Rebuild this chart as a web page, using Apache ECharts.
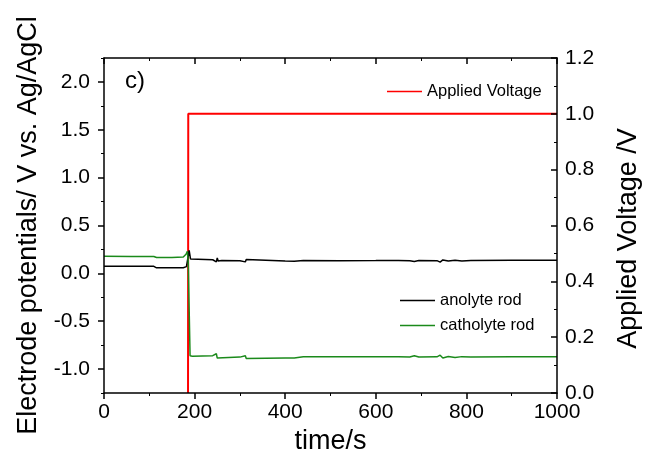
<!DOCTYPE html>
<html>
<head>
<meta charset="utf-8">
<script src="https://cdn.jsdelivr.net/npm/echarts@6/dist/echarts.min.js"></script>
<style>
  html, body { margin: 0; padding: 0; background: #fff; }
  #chart { width: 645px; height: 460px; }
</style>
</head>
<body>
<div id="chart"></div>
<script>
// time axis (s) and the readings
var anolyteTime = [0, 60, 110, 116, 175, 182, 186, 188, 191, 195, 240, 248, 250, 252, 260, 300, 312, 314, 318, 400, 420, 440, 520, 600, 650, 675, 685, 695, 735, 742, 748, 760, 775, 790, 810, 900, 1000];
var anolyteRod = [0.075, 0.074, 0.073, 0.058, 0.058, 0.07, 0.09, 0.24, 0.15, 0.14, 0.142, 0.12, 0.16, 0.13, 0.135, 0.132, 0.12, 0.145, 0.13, 0.128, 0.127, 0.134, 0.133, 0.134, 0.135, 0.132, 0.125, 0.134, 0.133, 0.118, 0.14, 0.128, 0.138, 0.13, 0.135, 0.136, 0.136];

var catholyteTime = [0, 60, 110, 116, 150, 175, 181, 184, 186, 190, 195, 240, 248, 250, 252, 300, 312, 314, 318, 400, 420, 440, 520, 600, 650, 675, 685, 695, 735, 742, 748, 760, 775, 790, 810, 900, 1000];
var catholyteRod = [0.178, 0.177, 0.176, 0.165, 0.165, 0.17, 0.2, 0.23, 0.12, -0.86, -0.865, -0.86, -0.84, -0.885, -0.87, -0.875, -0.86, -0.89, -0.875, -0.885, -0.885, -0.872, -0.872, -0.872, -0.87, -0.873, -0.86, -0.873, -0.872, -0.855, -0.885, -0.868, -0.878, -0.87, -0.873, -0.872, -0.87];

// before ~186 s the voltage sits on the 0 baseline (hidden behind the axis)
var voltageTime = [185.5, 186, 1000];
var appliedVoltage = [0, 1.0, 1.0];

var leftMajor = [-1.0, -0.5, 0.0, 0.5, 1.0, 1.5, 2.0];
var leftMinor = [-1.25, -0.75, -0.25, 0.25, 0.75, 1.25, 1.75, 2.25];

function pairs(t, v) {
  var out = [];
  for (var i = 0; i < t.length; i++) out.push([t[i], v[i]]);
  return out;
}

var font = "'Liberation Sans', Arial, sans-serif";
var myChart = echarts.init(document.getElementById('chart'));

var option = {
  animation: false,
  textStyle: { fontFamily: font, color: '#000' },
  grid: { left: 104, right: 88, top: 58, bottom: 67, containLabel: false, outerBoundsMode: 'none' },
  graphic: [{
    type: 'text', left: 125, top: 69,
    style: { text: 'c)', font: '24px ' + font, fill: '#000' }
  }],
  legend: [{
    data: ['Applied Voltage'],
    left: 387, top: 83, padding: 0,
    icon: 'rect', itemWidth: 35, itemHeight: 1.5, itemGap: 6,
    textStyle: { fontSize: 16.5, color: '#000', fontFamily: font }
  }, {
    data: ['anolyte rod', 'catholyte rod'],
    orient: 'vertical', left: 400, top: 292, padding: 0,
    icon: 'rect', itemWidth: 35, itemHeight: 1.5, itemGap: 8,
    textStyle: { fontSize: 16.5, color: '#000', fontFamily: font }
  }],
  xAxis: [{
    type: 'value', position: 'bottom', min: 0, max: 1000, interval: 200, z: 5,
    name: 'time/s', nameLocation: 'middle', nameGap: 32,
    nameTextStyle: { fontSize: 27, color: '#000' },
    axisLine: { onZero: false, lineStyle: { color: '#000', width: 1.5 } },
    axisTick: { length: 6, lineStyle: { color: '#000', width: 1.5 } },
    minorTick: { show: true, splitNumber: 2, length: 3, lineStyle: { color: '#000', width: 1 } },
    axisLabel: { fontSize: 21, color: '#000', margin: 9, formatter: function (v) { return String(v); } },
    splitLine: { show: false }
  }, {
    type: 'value', position: 'top', min: 0, max: 1000, interval: 200, z: 5,
    axisLine: { show: true, onZero: false, lineStyle: { color: '#000', width: 1.5 } },
    axisTick: { show: true, inside: true, length: 6, lineStyle: { color: '#000', width: 1.5 } },
    minorTick: { show: true, splitNumber: 2, length: 3, lineStyle: { color: '#000', width: 1 } },
    axisLabel: { show: false },
    splitLine: { show: false }
  }],
  yAxis: [{
    type: 'value', position: 'left', min: -1.25, max: 2.25, z: 5,
    name: 'Electrode potentials/ V vs. Ag/AgCl', nameLocation: 'middle', nameGap: 62, nameRotate: 90,
    nameTextStyle: { fontSize: 27, color: '#000' },
    axisLine: { show: true, onZero: false, lineStyle: { color: '#000', width: 1.5 } },
    axisTick: { show: true, length: 6, customValues: leftMajor, lineStyle: { color: '#000', width: 1.5 } },
    axisLabel: {
      fontSize: 21, color: '#000', margin: 14, customValues: leftMajor,
      formatter: function (v) { return v.toFixed(1); }
    },
    splitLine: { show: false }
  }, {
    type: 'value', position: 'right', min: 0, max: 1.2, interval: 0.2, z: 5,
    name: 'Applied Voltage /V', nameLocation: 'middle', nameGap: 58, nameRotate: 90,
    nameTextStyle: { fontSize: 27, color: '#000', padding: [0, 26, 0, 0] },
    axisLine: { show: true, onZero: false, lineStyle: { color: '#000', width: 1.5 } },
    axisTick: { show: true, inside: true, length: 6, lineStyle: { color: '#000', width: 1.5 } },
    minorTick: { show: true, splitNumber: 2, length: 3, lineStyle: { color: '#000', width: 1 } },
    axisLabel: {
      fontSize: 21, color: '#000', margin: 8,
      formatter: function (v) { return v.toFixed(1); }
    },
    splitLine: { show: false }
  }, {
    // minor ticks for the left axis
    type: 'value', position: 'left', min: -1.25, max: 2.25, z: 5,
    axisLine: { show: false, onZero: false },
    axisTick: { show: true, length: 3, customValues: leftMinor, lineStyle: { color: '#000', width: 1 } },
    axisLabel: { show: false },
    splitLine: { show: false }
  }],
  series: [{
    name: 'Applied Voltage', type: 'line', xAxisIndex: 0, yAxisIndex: 1,
    data: pairs(voltageTime, appliedVoltage), showSymbol: false, z: 1,
    lineStyle: { color: '#ff0000', width: 2 }, itemStyle: { color: '#ff0000' }
  }, {
    name: 'anolyte rod', type: 'line', xAxisIndex: 0, yAxisIndex: 0,
    data: pairs(anolyteTime, anolyteRod), showSymbol: false, z: 2,
    lineStyle: { color: '#000000', width: 1.5 }, itemStyle: { color: '#000000' }
  }, {
    name: 'catholyte rod', type: 'line', xAxisIndex: 0, yAxisIndex: 0,
    data: pairs(catholyteTime, catholyteRod), showSymbol: false, z: 2,
    lineStyle: { color: '#1b8a1b', width: 1.5 }, itemStyle: { color: '#1b8a1b' }
  }]
};

myChart.setOption(option);
</script>
</body>
</html>
